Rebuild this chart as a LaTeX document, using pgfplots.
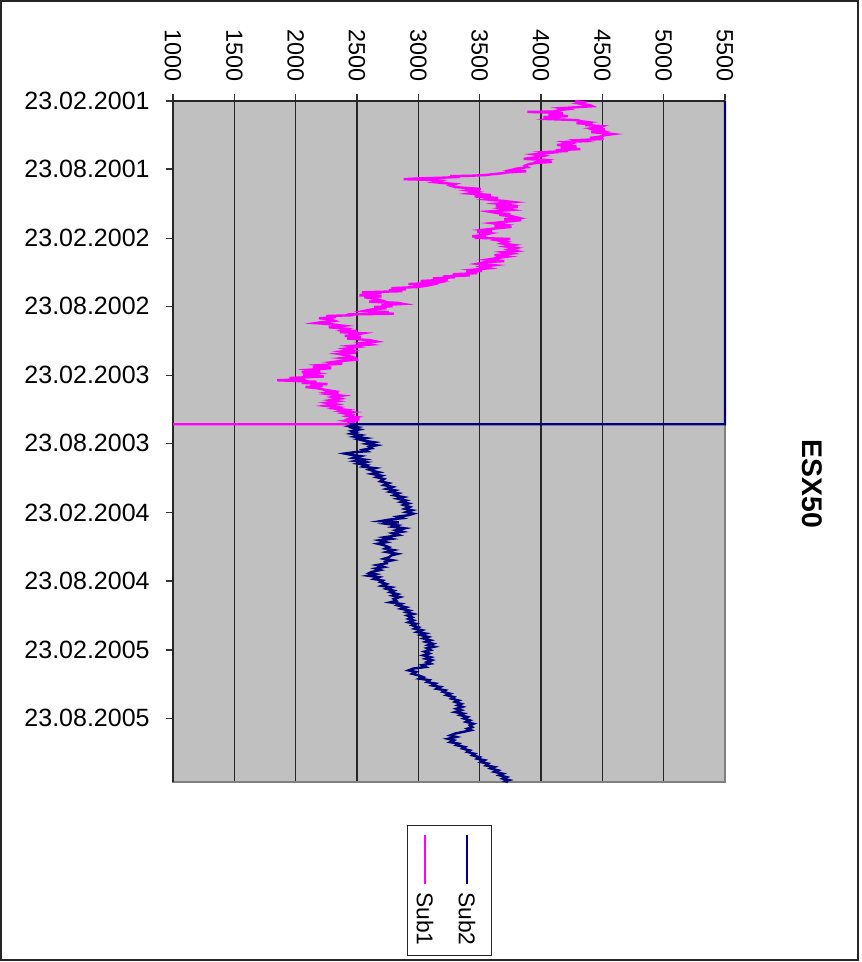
\documentclass[border=0pt]{standalone}
\usepackage{fontspec}
\setmainfont{Liberation Sans}
\usepackage{pgfplots}
\pgfplotsset{compat=1.18}
\definecolor{plotgray}{HTML}{C0C0C0}
\definecolor{subone}{HTML}{FF00FF}
\definecolor{subtwo}{HTML}{000080}
\definecolor{framegray}{HTML}{808080}

% day = days since 23.02.2001, value = index level
\pgfplotstableread{
day value
0 4280
3 4340
6 4300
11 4400
14 4420
19 4160
22 4210
24 4150
28 4100
29 3890
31 4100
32 4180
36 4060
40 4220
43 4020
45 4100
48 4050
51 4300
54 4330
56 4380
59 4290
62 4420
64 4360
67 4500
69 4480
72 4420
75 4520
77 4450
80 4500
83 4410
86 4540
88 4590
91 4520
95 4480
98 4400
101 4510
104 4300
107 4350
109 4190
113 4240
117 4130
121 4290
125 4160
128 4320
131 4120
133 4220
136 4030
138 4070
142 3940
146 4020
150 3950
154 3860
157 4040
160 4000
162 4090
165 3960
168 3900
172 3870
176 3890
180 3800
184 3750
187 3880
190 3720
192 3690
195 3600
197 3550
199 3420
200 3260
202 3340
204 3200
206 3000
208 2880
210 3100
212 3180
216 3130
219 3230
221 3300
225 3260
229 3300
232 3420
234 3510
238 3400
242 3480
246 3410
250 3590
254 3460
258 3650
262 3560
266 3700
269 3780
273 3640
277 3740
280 3630
282 3810
286 3680
290 3760
294 3570
298 3640
301 3750
303 3660
307 3770
311 3820
314 3700
317 3840
321 3720
325 3600
329 3700
332 3620
335 3760
339 3630
343 3520
346 3600
349 3480
352 3590
357 3520
360 3440
362 3550
364 3460
367 3750
371 3650
375 3720
379 3680
383 3780
387 3710
391 3800
395 3740
399 3800
402 3690
406 3760
410 3620
414 3730
418 3640
422 3560
426 3700
429 3540
433 3480
437 3620
441 3520
445 3580
449 3440
452 3520
455 3390
458 3480
461 3280
464 3420
467 3200
469 3300
472 3120
475 3240
479 3020
482 3180
484 3150
487 2920
490 3090
492 3060
495 2990
498 2780
501 2900
503 2760
506 2870
509 2540
511 2700
514 2610
517 2520
520 2700
522 2560
526 2640
530 2690
534 2600
537 2830
540 2880
543 2700
546 2790
548 2640
551 2740
555 2610
559 2550
562 2760
564 2690
566 2800
568 2420
570 2470
572 2250
575 2330
578 2190
581 2290
585 2320
589 2200
591 2160
594 2290
598 2390
602 2270
606 2420
610 2380
612 2500
615 2360
618 2550
622 2480
625 2400
628 2530
632 2420
636 2600
640 2660
644 2540
648 2610
652 2440
655 2500
659 2400
663 2460
666 2380
670 2490
673 2350
677 2420
681 2460
684 2380
688 2510
692 2360
695 2290
699 2380
703 2180
706 2230
709 2140
711 2290
715 2110
719 2200
721 2050
725 2170
729 2060
733 2230
737 1950
740 2080
743 1850
745 2000
747 2170
750 2050
753 2260
756 2120
758 2220
761 2080
764 2170
768 2230
772 2310
775 2260
777 2350
780 2270
784 2380
788 2300
792 2360
796 2280
799 2340
803 2250
807 2330
811 2240
815 2350
818 2310
822 2420
825 2370
828 2460
831 2390
835 2450
838 2420
841 2500
845 2450
847 2520
851 2410
854 2470
857 2440
860 2450
860 1000
}\subone

\pgfplotstableread{
day value
0 5500
860 5500
860 2440
862 2480
865 2440
868 2500
870 2470
874 2520
878 2460
881 2490
885 2450
889 2530
893 2480
897 2570
900 2510
904 2560
908 2640
912 2580
916 2660
920 2600
924 2620
928 2550
932 2580
934 2490
938 2400
942 2460
945 2530
950 2470
954 2560
958 2490
961 2570
965 2510
969 2580
973 2550
977 2650
981 2600
985 2640
988 2680
992 2620
997 2700
1001 2660
1006 2720
1012 2690
1017 2760
1022 2720
1027 2790
1032 2740
1036 2810
1040 2770
1044 2840
1049 2800
1054 2880
1058 2830
1063 2900
1067 2860
1071 2920
1075 2880
1080 2930
1085 2890
1089 2950
1094 2900
1098 2960
1102 2920
1106 2830
1110 2870
1114 2760
1118 2690
1121 2840
1125 2740
1129 2830
1133 2790
1137 2890
1142 2820
1146 2870
1150 2790
1155 2840
1161 2720
1165 2780
1169 2680
1174 2740
1178 2670
1182 2720
1187 2760
1191 2730
1195 2800
1200 2740
1205 2830
1209 2780
1214 2760
1218 2720
1222 2790
1226 2730
1230 2740
1235 2660
1240 2720
1244 2650
1248 2690
1253 2620
1256 2600
1259 2650
1263 2590
1267 2680
1272 2640
1276 2710
1280 2690
1285 2740
1290 2700
1294 2780
1298 2740
1303 2800
1307 2770
1312 2830
1316 2790
1320 2850
1325 2800
1330 2820
1334 2770
1338 2860
1342 2830
1347 2900
1351 2860
1356 2930
1360 2900
1365 2960
1369 2910
1374 2950
1378 2920
1382 2960
1387 2920
1391 2980
1395 2950
1400 3000
1404 2970
1408 3030
1413 2990
1417 3060
1421 3020
1426 3080
1430 3040
1435 3100
1439 3060
1444 3120
1448 3080
1452 3130
1456 3070
1461 3100
1465 3050
1470 3090
1475 3040
1480 3100
1484 3060
1488 3110
1493 3070
1497 3100
1501 3030
1506 3060
1510 2960
1515 2920
1519 2980
1524 2950
1528 3000
1533 3040
1537 3010
1541 3090
1546 3070
1550 3140
1555 3110
1559 3180
1564 3150
1568 3220
1572 3200
1577 3260
1581 3230
1586 3290
1590 3270
1595 3330
1599 3300
1604 3350
1608 3320
1612 3360
1617 3310
1621 3350
1626 3300
1630 3370
1634 3340
1639 3400
1643 3370
1648 3420
1652 3390
1657 3450
1661 3420
1666 3440
1670 3400
1674 3430
1679 3360
1683 3300
1688 3260
1692 3310
1697 3240
1701 3290
1706 3260
1710 3330
1714 3310
1719 3380
1723 3360
1728 3420
1732 3400
1737 3460
1741 3440
1746 3500
1750 3480
1754 3540
1759 3510
1763 3570
1768 3550
1772 3620
1776 3590
1781 3650
1785 3620
1790 3690
1794 3660
1799 3720
1803 3690
1807 3740
1810 3710
1812 3730
}\subtwo

\begin{document}
\begin{tikzpicture}[x=0.5pt,y=-0.5pt]
\useasboundingbox (0,0) rectangle (861,962);
\draw[line width=0.75pt, black!85] (1,1) rectangle (858,960);
\begin{axis}[
  at={(86.5pt,-50.5pt)}, anchor=north west,
  width=276pt, height=340.5pt, scale only axis,
  xmin=1000, xmax=5500, ymin=0, ymax=1812, y dir=reverse,
  clip=false,
  axis background/.style={fill=plotgray},
  axis line style={draw=framegray, line width=1pt},
  xtick={1000,1500,...,5500},
  ytick={0,181,365,546,730,911,1095,1277,1461,1642},
  yticklabels={23.02.2001,23.08.2001,23.02.2002,23.08.2002,23.02.2003,23.08.2003,23.02.2004,23.08.2004,23.02.2005,23.08.2005},
  xtick pos=right, xticklabel pos=right,
  ytick pos=left,
  tick align=outside,
  major tick length=3.5pt,
  tick style={black!80, line width=0.6pt},
  xmajorgrids, major grid style={black!85, line width=0.6pt},
  scaled x ticks=false,
  /pgf/number format/assume math mode=true,
  /pgf/number format/1000 sep={},
  xticklabel style={font=\fontsize{11.7}{14}\selectfont, rotate=-90, anchor=east, inner sep=0pt},
  xticklabel shift=6pt,
  yticklabel style={font=\fontsize{12.5}{15}\selectfont, anchor=east, inner sep=0pt},
  yticklabel shift=8pt,
]
\draw[black!85, line width=0.75pt] (axis description cs:0,0) -- (axis description cs:0,1) -- (axis description cs:1,1);
\addplot[subone, line width=1.2pt] table[x=value, y=day] {\subone};
\addplot[subtwo, line width=1.2pt] table[x=value, y=day] {\subtwo};
\end{axis}
\node[rotate=-90, font=\bfseries\fontsize{14.2}{17}\selectfont] at (812,484) {ESX50};
\draw[black!85, line width=0.5pt] (407,825) rectangle (491,955);
\draw[subtwo, line width=1pt] (467,835) -- (467,884);
\node[rotate=-90, anchor=west, inner sep=0pt, font=\fontsize{11.4}{14}\selectfont] at (467,892) {Sub2};
\draw[subone, line width=1pt] (425,835) -- (425,884);
\node[rotate=-90, anchor=west, inner sep=0pt, font=\fontsize{11.4}{14}\selectfont] at (425,892) {Sub1};
\end{tikzpicture}
\end{document}
